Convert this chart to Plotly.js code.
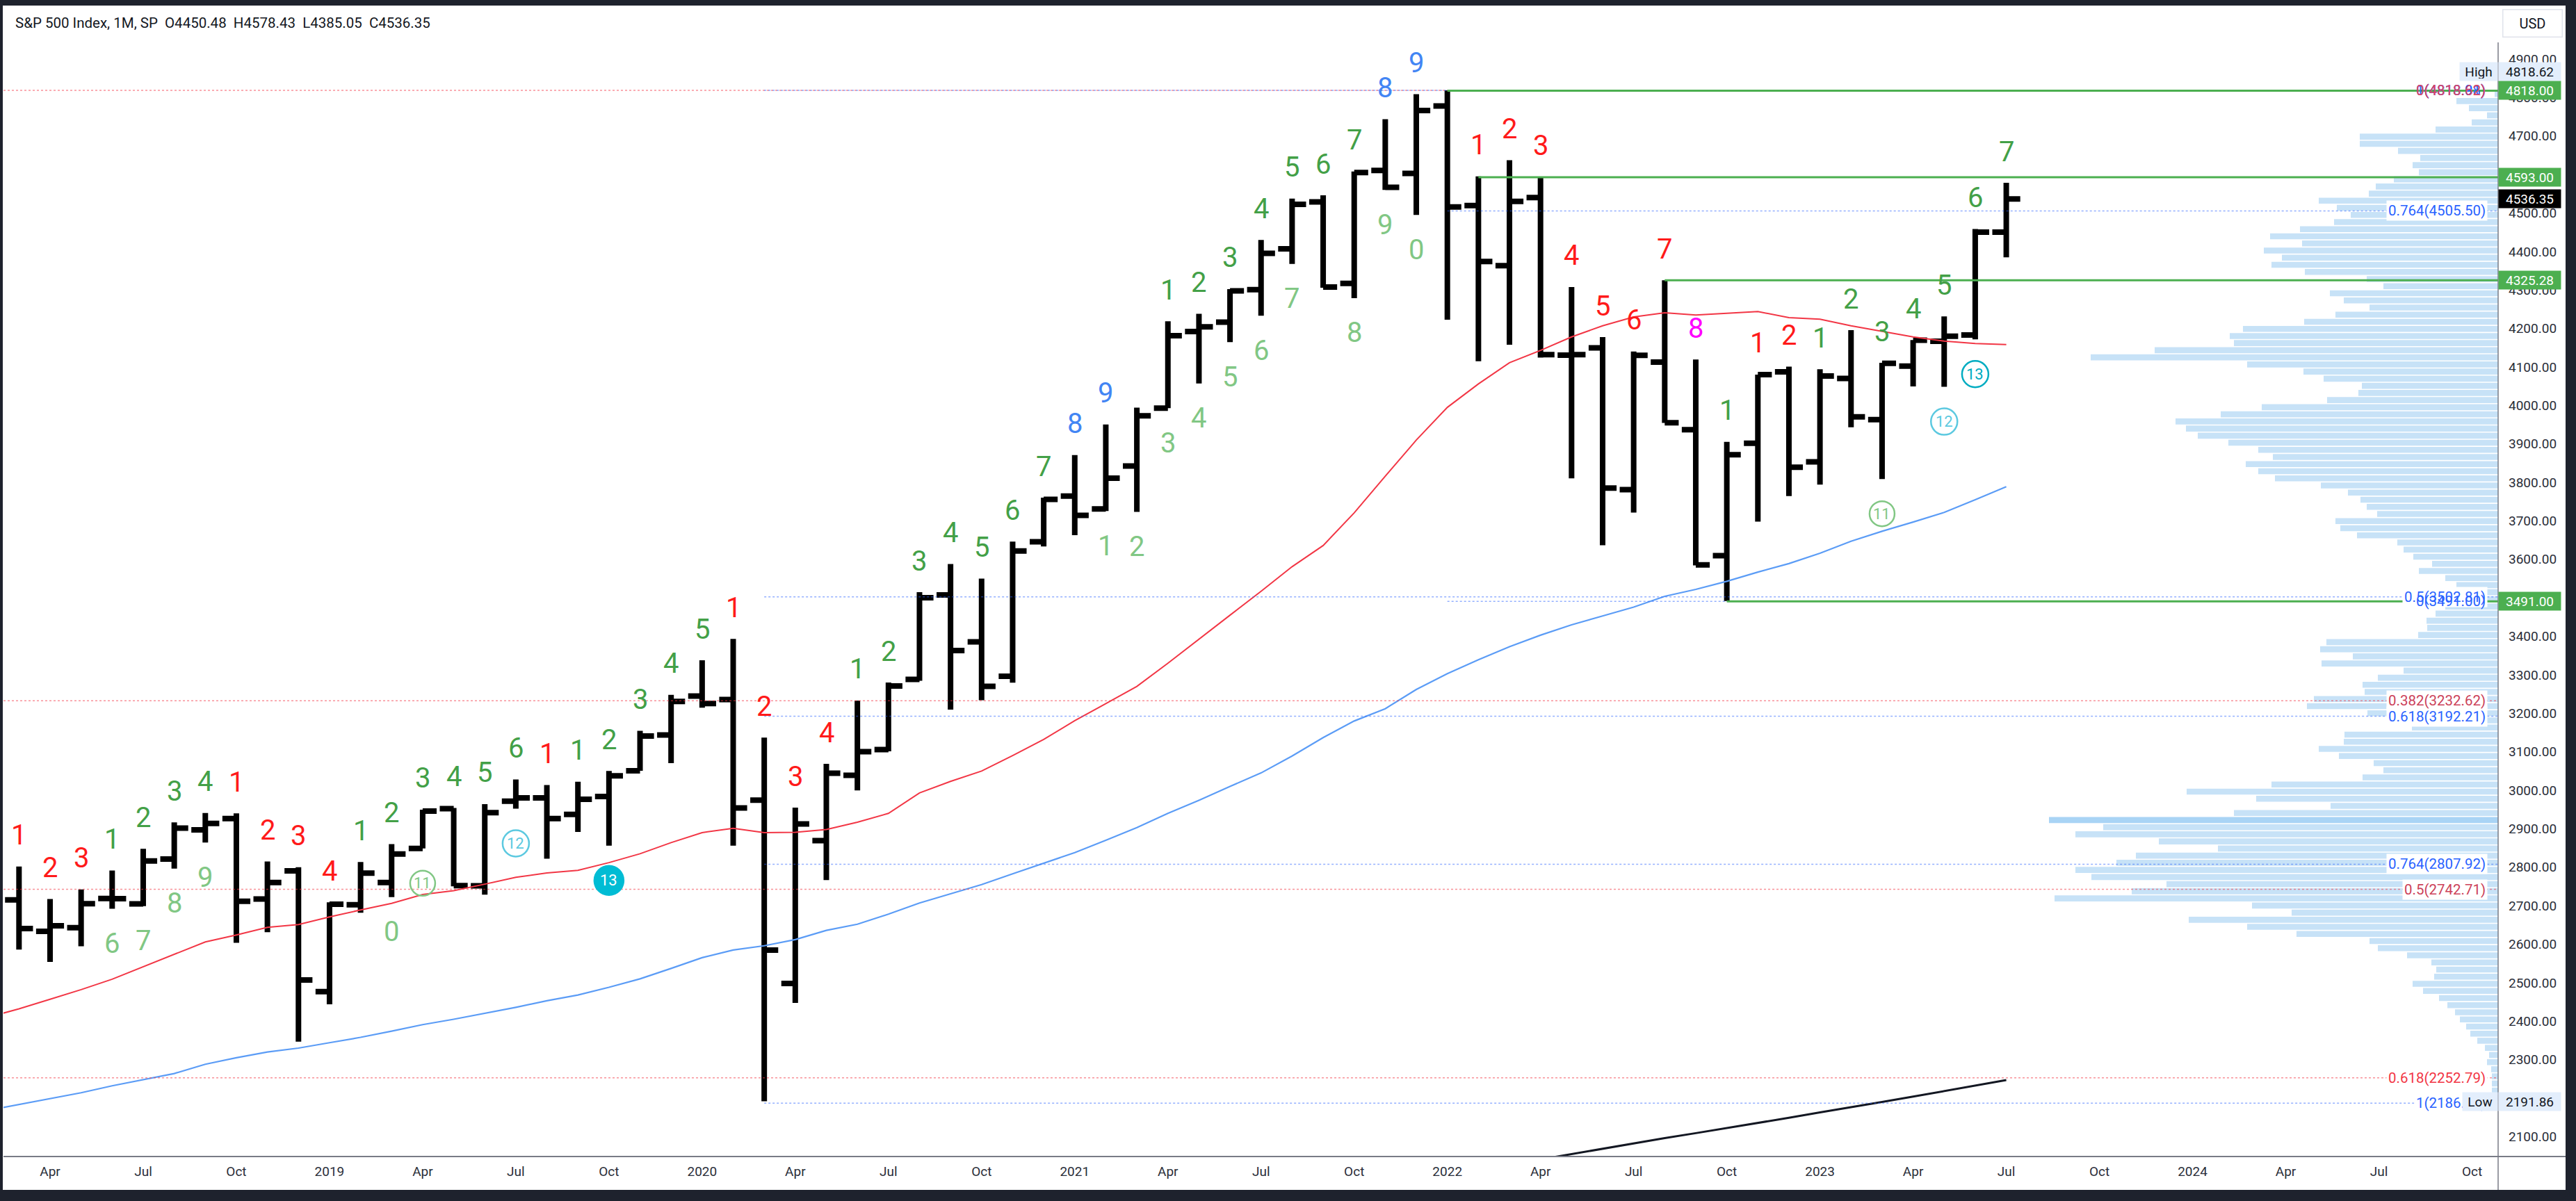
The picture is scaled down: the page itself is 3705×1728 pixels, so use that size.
<!DOCTYPE html>
<html>
<head>
<meta charset="utf-8">
<script src="https://cdn.plot.ly/plotly-3.0.1.min.js"></script>
<style>
html,body{margin:0;padding:0;background:#1e222d;overflow:hidden;}
#chart{width:3705px;height:1728px;}
</style>
</head>
<body>
<div id="chart"></div>
<script>
// ---------------- DATA ----------------
const months = ['2018-02','2018-03','2018-04','2018-05','2018-06','2018-07','2018-08','2018-09','2018-10','2018-11','2018-12',
 '2019-01','2019-02','2019-03','2019-04','2019-05','2019-06','2019-07','2019-08','2019-09','2019-10','2019-11','2019-12',
 '2020-01','2020-02','2020-03','2020-04','2020-05','2020-06','2020-07','2020-08','2020-09','2020-10','2020-11','2020-12',
 '2021-01','2021-02','2021-03','2021-04','2021-05','2021-06','2021-07','2021-08','2021-09','2021-10','2021-11','2021-12',
 '2022-01','2022-02','2022-03','2022-04','2022-05','2022-06','2022-07','2022-08','2022-09','2022-10','2022-11','2022-12',
 '2023-01','2023-02','2023-03','2023-04','2023-05','2023-06','2023-07'];

const openP = [2816.45,2715.22,2633.45,2642.96,2718.70,2704.95,2821.17,2896.96,2926.29,2717.58,2790.50,
 2476.96,2702.32,2760.24,2848.63,2952.33,2751.53,2971.41,2980.32,2937.09,2983.69,3050.72,3143.85,
 3244.67,3235.66,2974.28,2498.08,2869.09,3038.78,3105.92,3288.26,3507.44,3385.87,3296.20,3645.87,
 3764.61,3731.17,3842.51,3992.78,4191.98,4216.52,4300.73,4406.86,4528.80,4317.16,4610.62,4602.82,
 4778.14,4519.57,4363.14,4540.32,4130.61,4149.78,3781.00,4112.38,3936.73,3609.78,3901.79,4087.14,
 3853.29,4070.07,3963.34,4102.20,4166.79,4183.03,4450.48];
const highP = [2835.96,2801.90,2717.49,2742.24,2791.47,2848.03,2916.50,2940.91,2939.86,2815.15,2800.18,
 2708.95,2813.49,2860.31,2949.52,2954.13,2964.15,3027.98,3013.59,3021.99,3050.10,3154.26,3247.93,
 3337.77,3393.52,3136.72,2954.86,3068.67,3233.13,3279.99,3514.77,3588.11,3549.85,3645.99,3760.20,
 3870.90,3950.43,3994.41,4218.78,4238.04,4302.43,4429.97,4537.36,4545.85,4608.08,4743.83,4808.93,
 4818.62,4595.31,4637.30,4593.45,4307.66,4177.51,4140.15,4325.28,4119.28,3905.42,4080.11,4100.96,
 4094.21,4195.44,4110.75,4170.06,4231.10,4458.48,4578.43];
const lowP = [2532.69,2585.89,2553.80,2594.62,2691.99,2698.95,2796.34,2864.12,2603.54,2631.09,2346.58,
 2443.96,2681.83,2722.27,2848.63,2750.52,2728.81,2952.22,2822.12,2891.85,2855.94,3050.72,3070.33,
 3214.64,2855.84,2191.86,2447.49,2766.64,2999.49,3101.17,3284.53,3209.45,3233.94,3279.74,3633.40,
 3662.71,3725.62,3723.34,3992.78,4056.88,4164.40,4233.13,4367.73,4305.91,4278.94,4560.00,4495.12,
 4222.62,4114.65,4157.87,4124.28,3810.32,3636.87,3721.56,3954.53,3584.13,3491.58,3698.15,3764.49,
 3794.33,3943.08,3808.86,4049.35,4048.28,4171.64,4385.05];
const closeP = [2713.83,2640.87,2648.05,2705.27,2718.37,2816.29,2901.52,2913.98,2711.74,2760.17,2506.85,
 2704.10,2784.49,2834.40,2945.83,2752.06,2941.76,2980.38,2926.46,2976.74,3037.56,3140.98,3230.78,
 3225.52,2954.22,2584.59,2912.43,3044.31,3100.29,3271.12,3500.31,3363.00,3269.96,3621.63,3756.07,
 3714.24,3811.15,3972.89,4181.17,4204.11,4297.50,4395.26,4522.68,4307.54,4605.38,4567.00,4766.18,
 4515.55,4373.94,4530.41,4131.93,4132.15,3785.38,4130.29,3955.00,3585.62,3871.98,4080.11,3839.50,
 4076.60,3970.15,4109.31,4169.48,4179.83,4450.38,4536.35];

// moving averages (aligned with months)
const redMA = [2410,2432,2457,2482,2509,2541,2574,2606,2624,2644,2651,
 2671,2689,2706,2729,2739,2756,2774,2785,2792,2812,2835,2864,
 2890,2901,2890,2891,2898,2917,2940,2993,3023,3050,3090,3132,
 3181,3225,3270,3330,3393,3455,3517,3581,3636,3721,3816,3910,
 3995,4056,4111,4143,4178,4207,4230,4241,4235,4239,4244,4228,
 4224,4207,4192,4178,4167,4161,4158];
const blueMA = [2168,2183,2199,2214,2232,2248,2264,2288,2305,2320,2330,
 2344,2358,2374,2391,2405,2420,2436,2453,2468,2488,2510,2537,
 2565,2585,2596,2612,2636,2652,2678,2707,2731,2755,2783,2810,
 2838,2870,2903,2940,2974,3010,3045,3089,3137,3180,3212,3262,
 3303,3339,3373,3403,3430,3453,3476,3504,3522,3543,3567,3589,
 3616,3647,3673,3697,3722,3755,3789];
const longMAMonths = ['2022-03','2022-04','2022-05','2022-06','2022-07','2022-08','2022-09','2022-10','2022-11','2022-12',
 '2023-01','2023-02','2023-03','2023-04','2023-05','2023-06','2023-07'];
const longMA = [2027,2041,2055,2069,2082,2096,2109,2122,2136,2149,2163,2176,2190,2204,2218,2232,2247];

// x-axis tick labels
const tickMonths = ['2018-04','2018-07','2018-10','2019-01','2019-04','2019-07','2019-10','2020-01','2020-04','2020-07','2020-10',
 '2021-01','2021-04','2021-07','2021-10','2022-01','2022-04','2022-07','2022-10','2023-01','2023-04','2023-07','2023-10',
 '2024-01','2024-04','2024-07','2024-10'];
const tickLabels = ['Apr','Jul','Oct','2019','Apr','Jul','Oct','2020','Apr','Jul','Oct',
 '2021','Apr','Jul','Oct','2022','Apr','Jul','Oct','2023','Apr','Jul','Oct',
 '2024','Apr','Jul','Oct'];
// price-axis tick values
const priceTicks = [2100,2200,2300,2400,2500,2600,2700,2800,2900,3000,3100,3200,3300,3400,3500,
 3600,3700,3800,3900,4000,4100,4200,4300,4400,4500,4600,4700,4800,4900];

// TD sequential counts above highs
const upMonth = ['2018-03','2018-04','2018-05','2018-06','2018-07','2018-08','2018-09','2018-10','2018-11','2018-12',
 '2019-01','2019-02','2019-03','2019-04','2019-05','2019-06','2019-07','2019-08','2019-09','2019-10','2019-11','2019-12',
 '2020-01','2020-02','2020-03','2020-04','2020-05','2020-06','2020-07','2020-08','2020-09','2020-10','2020-11','2020-12',
 '2021-01','2021-02','2021-04','2021-05','2021-06','2021-07','2021-08','2021-09','2021-10','2021-11','2021-12',
 '2022-02','2022-03','2022-04','2022-05','2022-06','2022-07','2022-08','2022-09','2022-10','2022-11','2022-12',
 '2023-01','2023-02','2023-03','2023-04','2023-05','2023-06','2023-07'];
const upText = ['1','2','3','1','2','3','4','1','2','3',
 '4','1','2','3','4','5','6','1','1','2','3','4',
 '5','1','2','3','4','1','2','3','4','5','6','7',
 '8','9','1','2','3','4','5','6','7','8','9',
 '1','2','3','4','5','6','7','8','1','1','2',
 '1','2','3','4','5','6','7'];
const upKind = ['R','R','R','G','G','G','G','R','R','R',
 'R','G','G','G','G','G','G','R','G','G','G','G',
 'G','R','R','R','R','G','G','G','G','G','G','G',
 'B','B','G','G','G','G','G','G','G','B','B',
 'R','R','R','R','R','R','R','M','G','R','R',
 'G','G','G','G','G','G','G'];
// counts below lows
const dnMonth = ['2018-06','2018-07','2018-08','2018-09','2019-03','2021-02','2021-03','2021-04','2021-05','2021-06',
 '2021-07','2021-08','2021-10','2021-11','2021-12'];
const dnText = ['6','7','8','9','0','1','2','3','4','5','6','7','8','9','0'];
// circled countdown marks below lows
const circMonth = ['2019-04','2019-07','2019-10','2023-03','2023-05','2023-06'];
const circText = ['11','12','13','11','12','13'];
const circKind = ['lg','lc','fill','lg','lc','c'];

// Fibonacci levels
const fibRedLevels = [4818.62,3232.62,2742.71,2252.79];
const fibRedText = ['0(4818.62)','0.382(3232.62)','0.5(2742.71)','0.618(2252.79)'];
const fibAStart = '2020-03';
const fibALevels = [4818.91,3502.81,3192.21,2807.92,2186.71];
const fibAText = ['0(4818.91)','0.5(3502.81)','0.618(3192.21)','0.764(2807.92)','1(2186.71)'];
const fibBStart = '2022-01';
const fibBLevels = [4818.88,4505.50,3491.00];
const fibBText = ['1(4818.88)','0.764(4505.50)','0(3491.00)'];

// horizontal green levels
const levelPrice = [4818.00,4593.00,4325.28,3491.00];
const levelStart = ['2022-01','2022-02','2022-08','2022-10'];

// volume profile rows, top (high) to bottom (low)
const vpHigh = 4818.62, vpLow = 2191.86;
const vpVolume = [5,60,42,16,38,90,199,199,144,112,123,114,150,176,186,258,232,212,236,285,
 328,282,337,311,326,278,189,165,242,222,185,234,279,367,386,380,494,586,361,280,
 251,196,201,246,340,399,464,449,432,388,345,324,363,345,321,255,216,198,189,174,
 234,227,203,145,136,122,95,114,76,60,107,80,76,90,103,102,115,247,256,209,
 254,136,173,195,192,265,275,188,124,124,221,222,258,229,179,165,195,326,448,348,
 241,380,646,568,608,488,403,521,549,608,585,477,527,638,354,297,445,361,290,185,
 173,131,96,89,92,123,108,85,73,62,55,46,40,30,19,13,16,10,9,9,9,6];

const lastClose = 4536.35;

// ---------------- BUILD ----------------
const FONT = 'Roboto, "Liberation Sans", Arial, sans-serif';
const W = 3705, H = 1728, ML = 5, MR = 112, MT = 8, MB = 64;
const plotW = W - ML - MR, plotH = H - MT - MB;
const px = X => (X - ML) / plotW;
const py = Y => (H - MB - Y) / plotH;
const mi = s => { const p = s.split('-'); return (+p[0] - 2018) * 12 + (+p[1] - 1); };
const X_MIN = 1.5, X_MAX = 81.84;

const xs = months.map(mi);
const hiOf = s => highP[months.indexOf(s)];
const loOf = s => lowP[months.indexOf(s)];

const traces = [];
traces.push({type:'scatter', mode:'lines', x: xs, y: redMA, line:{color:'#f23645', width:2}, hoverinfo:'skip'});
traces.push({type:'scatter', mode:'lines', x: xs, y: blueMA, line:{color:'#5b9cf6', width:2.2}, hoverinfo:'skip'});
traces.push({type:'scatter', mode:'lines', x: longMAMonths.map(mi), y: longMA, line:{color:'#131722', width:3}, hoverinfo:'skip'});
traces.push({type:'ohlc', x: xs, open: openP, high: highP, low: lowP, close: closeP,
  increasing:{line:{color:'#000000', width:8}}, decreasing:{line:{color:'#000000', width:8}},
  tickwidth:0.45, hoverinfo:'skip'});

const vpRows = vpVolume.length;
const vpStep = (vpHigh - vpLow) / vpRows;
const vpPrice = vpVolume.map((v, k) => vpHigh - (k + 0.5) * vpStep);
const vpMax = Math.max(...vpVolume);
traces.push({type:'bar', orientation:'h', x: vpVolume, y: vpPrice, width: vpStep * 0.84,
  marker:{color: vpVolume.map(v => v === vpMax ? '#a9d4f5' : '#c7e2f7'), line:{width:0}},
  xaxis:'x2', yaxis:'y', hoverinfo:'skip'});

const shapes = [];
const annotations = [];

// fib lines
fibRedLevels.forEach(v => shapes.push({type:'line', xref:'x', yref:'y', x0:X_MIN, x1:X_MAX, y0:v, y1:v,
  line:{color:'rgba(242,54,69,0.55)', width:1.5, dash:'dot'}}));
fibALevels.forEach(v => shapes.push({type:'line', xref:'x', yref:'y', x0:mi(fibAStart), x1:X_MAX, y0:v, y1:v,
  line:{color:'rgba(41,98,255,0.5)', width:1.5, dash:'dot'}}));
fibBLevels.forEach(v => shapes.push({type:'line', xref:'x', yref:'y', x0:mi(fibBStart), x1:X_MAX, y0:v, y1:v,
  line:{color:'rgba(41,98,255,0.5)', width:1.5, dash:'dot'}}));
// green levels
levelPrice.forEach((v, i) => shapes.push({type:'line', xref:'x', yref:'y', x0:mi(levelStart[i]), x1:X_MAX, y0:v, y1:v,
  line:{color:'#4caf50', width:3}}));

// fib labels
const fibLabel = (v, t, col, bg) => annotations.push({xref:'paper', x: px(3578), xanchor:'right', yref:'y', y:v, yanchor:'middle',
  text:t, showarrow:false, font:{family:FONT, size:20.5, color:col}, bgcolor: bg ? '#ffffff' : 'rgba(0,0,0,0)', borderpad:2});
fibLabel(fibALevels[1], fibAText[1], '#2962ff', true);
fibLabel(fibALevels[2], fibAText[2], '#2962ff', true);
fibLabel(fibALevels[3], fibAText[3], '#2962ff', true);
fibLabel(fibALevels[4], fibAText[4], '#2962ff', true);
fibLabel(fibRedLevels[1], fibRedText[1], '#cc4159', true);
fibLabel(fibRedLevels[2], fibRedText[2], '#cc4159', true);
fibLabel(fibRedLevels[3], fibRedText[3], '#f23645', true);
fibLabel(fibBLevels[1], fibBText[1], '#2962ff', true);
fibLabel(fibBLevels[2], fibBText[2], '#2962ff', false);
fibLabel(fibALevels[0], fibAText[0], '#2962ff', false);
fibLabel(fibBLevels[0], fibBText[0], '#2962ff', false);
fibLabel(fibRedLevels[0], fibRedText[0], '#e0455c', false);

// TD labels
const kindColor = {R:'#ff1a1a', G:'#43a047', LG:'#81c784', B:'#4285f4', M:'#ff00ff'};
upMonth.forEach((m, i) => annotations.push({xref:'x', yref:'y', x: mi(m), y: hiOf(m), yshift: 45, xanchor:'center', yanchor:'middle',
  text: upText[i], showarrow:false, font:{family:FONT, size:40, color: kindColor[upKind[i]]}}));
dnMonth.forEach((m, i) => annotations.push({xref:'x', yref:'y', x: mi(m), y: loOf(m), yshift: -50, xanchor:'center', yanchor:'middle',
  text: dnText[i], showarrow:false, font:{family:FONT, size:40, color: kindColor.LG}}));
const circStyle = {lg:{line:'#81c784', fill:'rgba(0,0,0,0)', txt:'#81c784', r:18},
                   lc:{line:'#5cc9e0', fill:'rgba(0,0,0,0)', txt:'#5cc9e0', r:19},
                   c:{line:'#00acc1', fill:'rgba(0,0,0,0)', txt:'#00acc1', r:19},
                   fill:{line:'#00bcd4', fill:'#00bcd4', txt:'#ffffff', r:21}};
circMonth.forEach((m, i) => {
  const st = circStyle[circKind[i]];
  shapes.push({type:'circle', xref:'x', yref:'y', xsizemode:'pixel', ysizemode:'pixel', xanchor: mi(m), yanchor: loOf(m),
    x0:-st.r, x1:st.r, y0:-50 - st.r, y1:-50 + st.r, line:{color: st.line, width:2.5}, fillcolor: st.fill});
  annotations.push({xref:'x', yref:'y', x: mi(m), y: loOf(m), yshift:-50, xanchor:'center', yanchor:'middle',
    text: circText[i], showarrow:false, font:{family:FONT, size:22, color: st.txt}});
});

// price-axis boxes
const axisBox = (v, t, bg, col, ys) => annotations.push({xref:'paper', x:1, xanchor:'left', yref:'y', y:v, yanchor:'middle', yshift: ys || 0,
  text:t, showarrow:false, width:83, height:20, borderpad:3, bgcolor:bg, font:{family:FONT, size:19, color:col}});
axisBox(4818.62, '4818.62', '#e3eefc', '#131722', 27);
annotations.push({xref:'paper', x:1, xanchor:'right', yref:'y', y:4818.62, yanchor:'middle', yshift:27,
  text:'High', showarrow:false, width:48, height:20, borderpad:3, bgcolor:'#e3eefc', font:{family:FONT, size:19, color:'#131722'}});
levelPrice.forEach(v => axisBox(v, v.toFixed(2), '#4caf50', '#ffffff'));
axisBox(lastClose, lastClose.toFixed(2), '#000000', '#ffffff');
axisBox(vpLow, vpLow.toFixed(2), '#e3eefc', '#131722');
annotations.push({xref:'paper', x:1, xanchor:'right', yref:'y', y:vpLow, yanchor:'middle',
  text:'Low', showarrow:false, width:44, height:20, borderpad:3, bgcolor:'#e3eefc', font:{family:FONT, size:19, color:'#131722'}});
annotations.push({xref:'paper', x: px(3642), xanchor:'center', yref:'paper', y: py(34), yanchor:'middle',
  text:'USD', showarrow:false, width:76, height:30, borderpad:4, bgcolor:'#ffffff', bordercolor:'#e0e3eb', borderwidth:1.5,
  font:{family:FONT, size:20, color:'#131722'}});
// header
annotations.push({xref:'paper', x: px(20), xanchor:'left', yref:'paper', y: py(33), yanchor:'middle', showarrow:false,
  text:'S&amp;P 500 Index, 1M, SP\u00a0\u00a0O4450.48\u00a0\u00a0H4578.43\u00a0\u00a0L4385.05\u00a0\u00a0C4536.35',
  font:{family:FONT, size:20.5, color:'#131722'}});

// axes separators and dark frame
shapes.push({type:'line', xref:'paper', yref:'paper', x0:0, x1:px(3690), y0:0, y1:0, line:{color:'#787b86', width:2}});
shapes.push({type:'line', xref:'paper', yref:'paper', x0:1, x1:1, y0:py(61), y1:py(1712), line:{color:'#787b86', width:1.5}});
const dark = '#1e222d';
shapes.push({type:'rect', xref:'paper', yref:'paper', x0:px(-5), x1:px(3715), y0:py(8), y1:py(-5), fillcolor:dark, line:{width:0}});
shapes.push({type:'rect', xref:'paper', yref:'paper', x0:px(-5), x1:px(3715), y0:py(1740), y1:py(1712), fillcolor:dark, line:{width:0}});
shapes.push({type:'rect', xref:'paper', yref:'paper', x0:px(-5), x1:px(4), y0:py(1740), y1:py(-5), fillcolor:dark, line:{width:0}});
shapes.push({type:'rect', xref:'paper', yref:'paper', x0:px(3690), x1:px(3715), y0:py(1740), y1:py(-5), fillcolor:dark, line:{width:0}});

const layout = {
  width: W, height: H,
  margin:{l:ML, r:MR, t:MT, b:MB, pad:0},
  paper_bgcolor:'#ffffff', plot_bgcolor:'#ffffff',
  showlegend:false, hovermode:false, dragmode:false,
  xaxis:{range:[X_MIN, X_MAX], tickmode:'array', tickvals: tickMonths.map(mi), ticktext: tickLabels,
    showgrid:false, zeroline:false, showline:false, ticks:'', ticklabelstandoff:8,
    tickfont:{family:FONT, size:19, color:'#2a2e39'}, rangeslider:{visible:false}, fixedrange:true},
  xaxis2:{overlaying:'x', anchor:'y', range:[plotW, 0], visible:false, fixedrange:true},
  yaxis:{side:'right', range:[2048.3, 5039.06], tickmode:'array', tickvals: priceTicks,
    ticktext: priceTicks.map(v => v.toFixed(2)),
    showgrid:false, zeroline:false, showline:false, ticks:'', ticklabelstandoff:14,
    tickfont:{family:FONT, size:19, color:'#2a2e39'}, fixedrange:true},
  shapes: shapes,
  annotations: annotations
};

Plotly.newPlot('chart', traces, layout, {displayModeBar:false, staticPlot:true});
</script>
</body>
</html>
